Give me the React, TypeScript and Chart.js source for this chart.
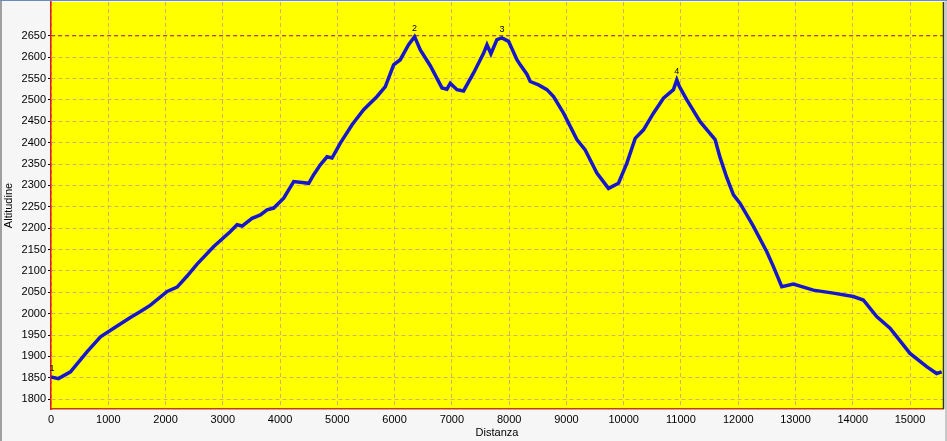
import React, { useEffect, useRef } from 'react';
import { Chart, registerables } from 'chart.js';

Chart.register(...registerables);

// Profile data: distance (m) and altitude (m)
const distances = [
  0, 130, 340, 632, 864, 1155, 1400, 1562, 1737, 2028, 2202, 2377, 2551, 2842, 3133, 3249,
  3337, 3511, 3656, 3773, 3889, 4063, 4238, 4384, 4500, 4587, 4703, 4820, 4907, 5052, 5257,
  5459, 5693, 5838, 5983, 6099, 6244, 6349, 6449, 6623, 6827, 6914, 6972, 7089, 7204, 7379,
  7553, 7613, 7682, 7787, 7874, 7990, 8136, 8194, 8310, 8368, 8513, 8660, 8775, 8950, 9183,
  9328, 9532, 9735, 9909, 10056, 10201, 10346, 10520, 10695, 10869, 10928, 10974, 11103, 11335,
  11597, 11684, 11801, 11917, 12033, 12266, 12499, 12615, 12761, 12963, 13312, 13661, 14010,
  14185, 14418, 14651, 15000, 15291, 15465, 15553,
];
const altitudes = [
  1852, 1848, 1864, 1911, 1946, 1971, 1992, 2005, 2020, 2052, 2062, 2088, 2116, 2157, 2192, 2208,
  2205, 2223, 2231, 2243, 2247, 2270, 2309, 2307, 2305, 2325, 2348, 2367, 2364, 2399, 2442,
  2477, 2508, 2531, 2582, 2594, 2629, 2648, 2617, 2580, 2528, 2525, 2539, 2524, 2521, 2563,
  2609, 2629, 2608, 2641, 2645, 2637, 2594, 2582, 2560, 2543, 2535, 2524, 2508, 2469, 2407,
  2383, 2329, 2293, 2305, 2352, 2410, 2430, 2469, 2504, 2524, 2547, 2531, 2500, 2449,
  2407, 2365, 2318, 2278, 2258, 2204, 2145, 2110, 2063, 2069, 2055, 2048, 2040,
  2032, 1993, 1966, 1907, 1876, 1860, 1864,
];

const waypointLabels = ['1', '2', '3', '4'];
const waypointDistances = [0, 6349, 7874, 10928];
const waypointAltitudes = [1852, 2648, 2645, 2547];

const maxAltitude = 2650;

const xTickValues = [0, 1000, 2000, 3000, 4000, 5000, 6000, 7000, 8000, 9000, 10000, 11000, 12000, 13000, 14000, 15000];
const yTickValues = [1800, 1850, 1900, 1950, 2000, 2050, 2100, 2150, 2200, 2250, 2300, 2350, 2400, 2450, 2500, 2550, 2600, 2650];

const xMin = 0;
const xMax = 15576;
const yMin = 1777;
const yMax = 2729;

const FONT_FAMILY = "'Liberation Sans', Arial, sans-serif";

export default function App() {
  const canvasRef = useRef<HTMLCanvasElement | null>(null);

  useEffect(() => {
    const canvas = canvasRef.current;
    if (!canvas) return;

    const framePlugin = {
      id: 'frame',
      beforeDraw(chart: any) {
        const { ctx, chartArea, width, height } = chart;
        ctx.save();
        ctx.fillStyle = '#f6f6f6';
        ctx.fillRect(0, 0, width, height);
        ctx.fillStyle = '#a0a0a0';
        ctx.fillRect(0, 0, 2, height);
        ctx.fillStyle = '#c8c8c8';
        ctx.fillRect(width - 2, 0, 2, height);
        ctx.fillStyle = '#6a8cb8';
        ctx.fillRect(0, 0, width, 1);
        ctx.fillStyle = '#ffff00';
        ctx.fillRect(chartArea.left, chartArea.top, chartArea.right - chartArea.left, chartArea.bottom - chartArea.top);
        ctx.restore();
      },
      afterDraw(chart: any) {
        const { ctx, chartArea, scales } = chart;
        ctx.save();
        ctx.strokeStyle = '#303030';
        ctx.lineWidth = 1.5;
        ctx.beginPath();
        ctx.moveTo(chartArea.right + 0.5, chartArea.top);
        ctx.lineTo(chartArea.right + 0.5, chartArea.bottom);
        ctx.stroke();
        ctx.fillStyle = '#000';
        ctx.font = `9px ${FONT_FAMILY}`;
        ctx.textAlign = 'center';
        ctx.textBaseline = 'middle';
        waypointLabels.forEach((lbl, i) => {
          const px = scales.x.getPixelForValue(waypointDistances[i]);
          const py = scales.y.getPixelForValue(waypointAltitudes[i]);
          ctx.fillText(lbl, px + (i === 0 ? 1 : 0), py - 8);
        });
        ctx.restore();
      },
    };

    const profile = distances.map((d, i) => ({ x: d, y: altitudes[i] }));
    const maxLine = [
      { x: xMin, y: maxAltitude },
      { x: xMax, y: maxAltitude },
    ];

    const chart = new Chart(canvas, {
      type: 'line',
      data: {
        datasets: [
          {
            data: maxLine,
            borderColor: '#a02828',
            borderWidth: 1,
            borderDash: [4, 3],
            pointRadius: 0,
            fill: false,
            order: 2,
          },
          {
            data: profile,
            borderColor: '#1616cc',
            borderWidth: 3.5,
            pointRadius: 0,
            tension: 0,
            fill: false,
            order: 1,
          },
        ],
      },
      options: {
        responsive: false,
        animation: false,
        devicePixelRatio: 1,
        layout: { padding: { top: 2, right: 4, left: 0, bottom: 0 } },
        plugins: {
          legend: { display: false },
          tooltip: { enabled: false },
          title: { display: false },
        },
        scales: {
          x: {
            type: 'linear',
            min: xMin,
            max: xMax,
            afterBuildTicks: (s: any) => {
              s.ticks = xTickValues.map((v) => ({ value: v }));
            },
            afterFit: (s: any) => {
              s.height = 32;
              s.paddingLeft = 0;
              s.paddingRight = 0;
            },
            grid: {
              color: '#d4b068',
              lineWidth: 1,
              drawTicks: true,
              tickLength: 4,
              tickColor: 'rgba(0,0,0,0)',
              tickBorderDash: [],
            },
            border: { display: true, color: '#c83c00', width: 1.5, dash: [4, 3] },
            ticks: {
              color: '#000',
              font: { family: FONT_FAMILY, size: 11 },
              padding: 0,
              maxRotation: 0,
              autoSkip: false,
              callback: (v: any) => String(v),
            },
            title: {
              display: true,
              text: 'Distanza',
              color: '#000',
              font: { family: FONT_FAMILY, size: 11 },
              padding: { top: 0, bottom: 1.5 },
            },
          },
          y: {
            type: 'linear',
            min: yMin,
            max: yMax,
            afterBuildTicks: (s: any) => {
              s.ticks = yTickValues.map((v) => ({ value: v }));
            },
            afterFit: (s: any) => {
              s.width = 51;
              s.paddingTop = 0;
              s.paddingBottom = 0;
            },
            grid: {
              color: '#d4b068',
              lineWidth: 1,
              drawTicks: true,
              tickLength: 3,
              tickColor: '#000',
              tickBorderDash: [],
            },
            border: { display: true, color: '#e01818', width: 1.5, dash: [4, 3] },
            ticks: {
              color: '#000',
              font: { family: FONT_FAMILY, size: 11 },
              padding: 2,
              autoSkip: false,
              callback: (v: any) => String(v),
            },
            title: {
              display: true,
              text: 'Altitudine',
              color: '#000',
              font: { family: FONT_FAMILY, size: 11 },
              padding: { top: 2.5, bottom: 0 },
            },
          },
        },
      },
      plugins: [framePlugin],
    });

    return () => {
      chart.destroy();
    };
  }, []);

  return (
    <canvas
      ref={canvasRef}
      width={947}
      height={441}
      style={{ position: 'absolute', left: 0, top: 0, width: 947, height: 441, display: 'block' }}
    />
  );
}
